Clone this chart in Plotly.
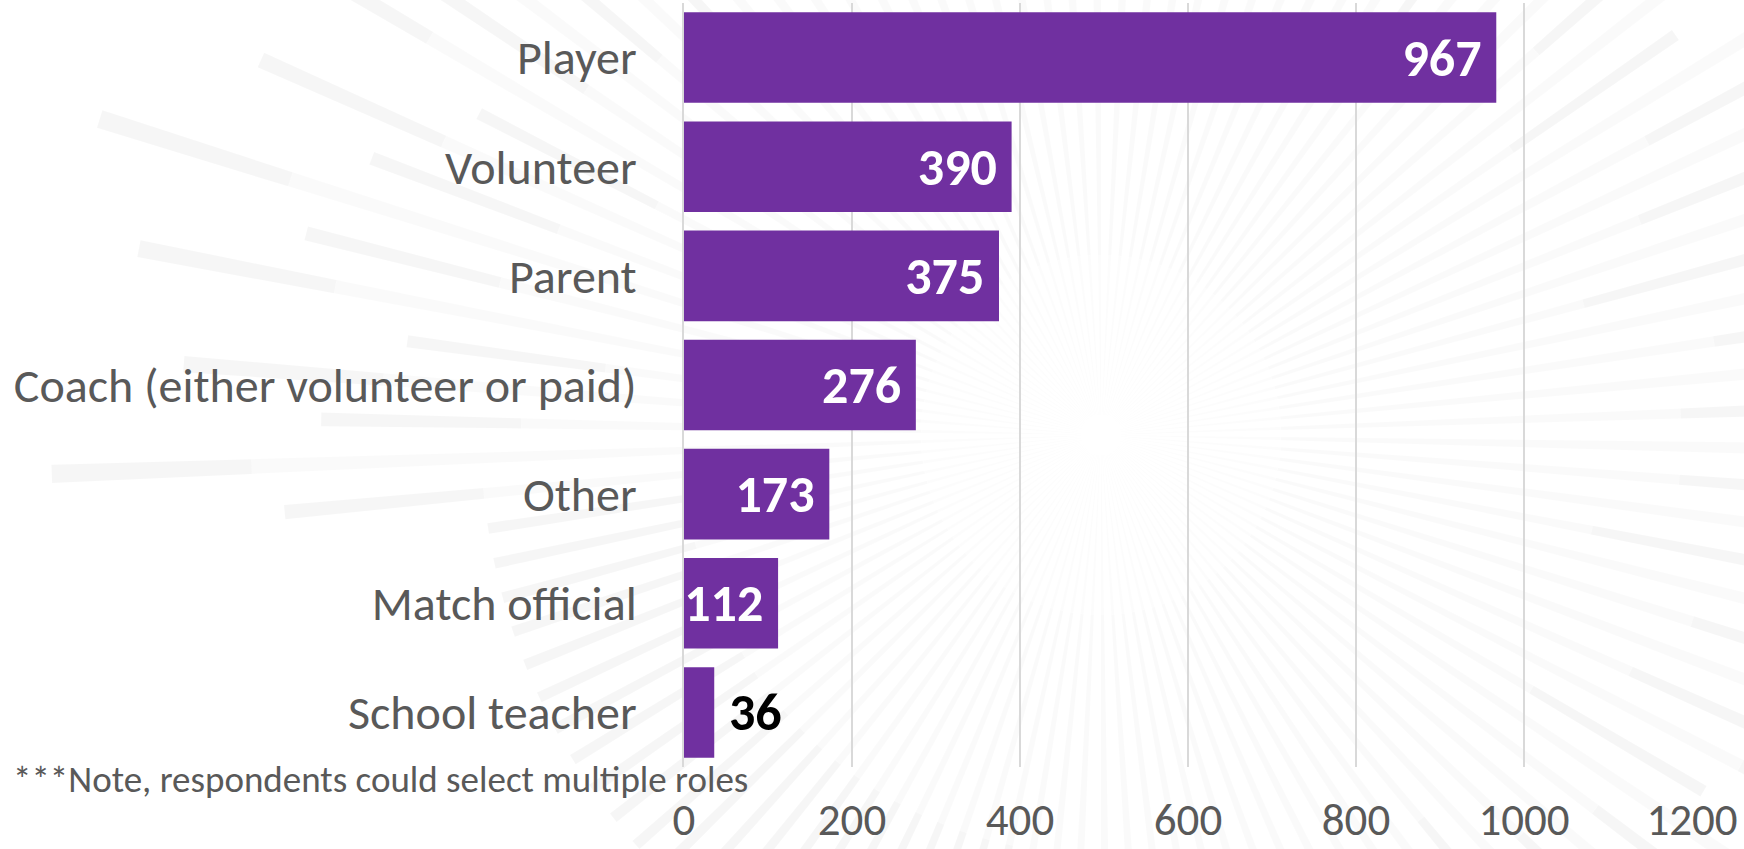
import math
import plotly.graph_objects as go

# ---- data ----
roles = ["Player", "Volunteer", "Parent", "Coach (either volunteer or paid)",
         "Other", "Match official", "School teacher"]
counts = [967, 390, 375, 276, 173, 112, 36]
x_ticks = [0, 200, 400, 600, 800, 1000, 1200]
note_text = "***Note, respondents could select multiple roles"

W, H = 1744, 849
ML, MR, MT, MB = 684, 52, 3, 82
PW = W - ML - MR
PH = H - MT - MB

FONT = "Carlito, Calibri, Lato, 'Open Sans', sans-serif"
BAR = "#7030A0"

def px2paper(px, py):
    return (px - ML) / PW, (H - MB - py) / PH

# ---- decorative starburst background ----
shapes = []
cx, cy = 1101, 435
n_rays = 110
lengths = [1050, 780, 920, 700, 980, 820]
for i in range(n_rays):
    th = 2 * math.pi * i / n_rays + 0.02
    hw = math.radians(0.5)
    rmax = lengths[i % len(lengths)]
    # rays pointing to the lower-left fade out sooner
    if math.cos(th) < -0.2 and math.sin(th) > 0.15:
        rmax = min(rmax, 620)
    segs = [(20, 180, 0.01), (180, rmax - 200, 0.02), (rmax - 200, rmax, 0.036)]
    for r0, r1, op in segs:
        pts = [(cx + r0 * math.cos(th - hw), cy + r0 * math.sin(th - hw)),
               (cx + r1 * math.cos(th - hw), cy + r1 * math.sin(th - hw)),
               (cx + r1 * math.cos(th + hw), cy + r1 * math.sin(th + hw)),
               (cx + r0 * math.cos(th + hw), cy + r0 * math.sin(th + hw))]
        pp = [px2paper(a, b) for a, b in pts]
        path = "M " + " L ".join(f"{a:.5f},{b:.5f}" for a, b in pp) + " Z"
        shapes.append(dict(type="path", path=path, xref="paper", yref="paper",
                           fillcolor=f"rgba(0,0,0,{op})", line=dict(width=0),
                           layer="below"))

nb = "\u00a0"
texts = [f"{v}{nb}" if v >= 100 else f"{nb}{v}" for v in counts]
positions = ["inside" if v >= 100 else "outside" for v in counts]

fig = go.Figure(go.Bar(
    x=counts, y=roles, orientation="h",
    marker=dict(color=BAR, line=dict(width=0)),
    text=texts, textposition=positions, insidetextanchor="end",
    textfont=dict(family=FONT, size=52, color="white", weight="bold"),
    insidetextfont=dict(family=FONT, size=52, color="white", weight="bold"),
    outsidetextfont=dict(family=FONT, size=52, color="black", weight="bold"),
    constraintext="none", cliponaxis=False,
    hoverinfo="skip",
))

fig.update_layout(
    width=W, height=H,
    margin=dict(l=ML, r=MR, t=MT, b=MB, pad=0),
    paper_bgcolor="white", plot_bgcolor="rgba(0,0,0,0)",
    bargap=0.17, showlegend=False,
    shapes=shapes,
    font=dict(family=FONT, color="#595959"),
    xaxis=dict(range=[0, 1200], tickvals=x_ticks, showgrid=True,
               gridcolor="#d9d9d9", gridwidth=1.5, zeroline=False,
               showline=False, ticks="", automargin=False,
               tickfont=dict(family=FONT, size=45, color="#595959"),
               ticklabelstandoff=22),
    yaxis=dict(categoryorder="array", categoryarray=roles, autorange="reversed",
               showgrid=False, zeroline=False, showline=True,
               linecolor="#d9d9d9", linewidth=1.5, ticks="", automargin=False,
               tickfont=dict(family=FONT, size=48, color="#595959"),
               ticklabelstandoff=36),
    annotations=[dict(text=note_text, xref="paper", yref="paper",
                      x=(11 - ML) / PW, y=(H - MB - 779) / PH,
                      xanchor="left", yanchor="middle", showarrow=False,
                      font=dict(family=FONT, size=37, color="#595959"))],
)

fig.write_html("out.html", config={"displayModeBar": False},
               post_script="document.body.style.margin='0';document.body.style.overflow='hidden';")
